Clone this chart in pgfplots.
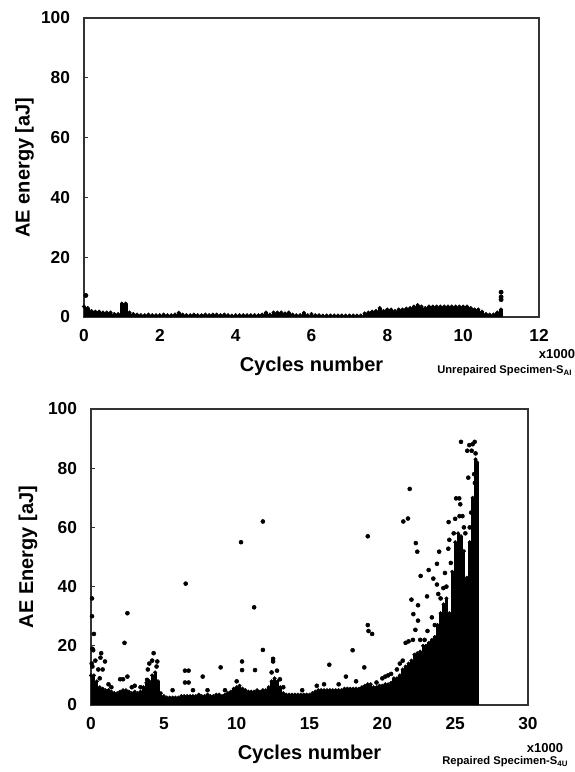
\documentclass[border=0pt]{standalone}
\usepackage{fontspec}
\setmainfont{Liberation Sans}
\usepackage{pgfplots}
\usepackage{pgfplotstable}
\pgfplotsset{compat=1.18}

% dense band of hits (upper edge of the point cloud), top specimen
\pgfplotstableread{
x y
0.0 3.5
0.1 3
0.2 2
0.3 1.8
0.4 1.8
0.5 1.5
0.6 1.5
0.7 1.5
0.8 1
0.9 1
1.0 4.5
1.1 4.5
1.2 1.5
1.3 1
1.4 0.8
1.5 0.6
1.6 0.6
1.7 0.8
1.8 0.6
1.9 0.6
2.0 0.6
2.1 0.8
2.2 0.6
2.3 0.6
2.4 0.8
2.5 1.4
2.6 0.8
2.7 0.6
2.8 0.6
2.9 0.8
3.0 0.6
3.1 0.6
3.2 0.8
3.3 0.6
3.4 0.8
3.5 0.8
3.6 0.6
3.7 0.8
3.8 0.6
3.9 0.5
4.0 0.6
4.1 0.6
4.2 0.6
4.3 0.6
4.4 0.6
4.5 0.6
4.6 0.6
4.7 0.8
4.8 1.5
4.9 0.8
5.0 1.5
5.1 1.5
5.2 1.5
5.3 1.2
5.4 1.5
5.5 0.8
5.6 0.6
5.7 0.6
5.8 1.4
5.9 0.6
6.0 1
6.1 0.6
6.2 0.6
6.3 0.5
6.4 0.5
6.5 0.5
6.6 0.5
6.7 0.5
6.8 0.5
6.9 0.5
7.0 0.5
7.1 0.5
7.2 0.5
7.3 0.5
7.4 1.2
7.5 1.5
7.6 1.8
7.7 2
7.8 3
7.9 2
8.0 2.5
8.1 2.5
8.2 2
8.3 2.5
8.4 2.5
8.5 2.8
8.6 3
8.7 3.5
8.8 4
8.9 3.5
9.0 3
9.1 3.5
9.2 3.5
9.3 3.5
9.4 3.5
9.5 3.5
9.6 3.5
9.7 3.5
9.8 3.5
9.9 3.5
10.0 3.5
10.1 3.5
10.2 3
10.3 2.5
10.4 2.5
10.5 1.8
10.6 1
10.7 0.8
10.8 0.8
10.9 1.5
11.0 2.5
}\topband

\pgfplotstableread{
x y
0.05 7.2
11.0 8.3
11.0 6.7
11.0 5.8
}\toppoints

% dense band, repaired specimen
\pgfplotstableread{
x y
0.0 10
0.2 10
0.4 8
0.6 6
0.8 5.5
1.0 5
1.2 5
1.4 4.5
1.6 4
1.8 4
2.0 4.5
2.2 5
2.4 5
2.6 4.5
2.8 4
3.0 4.5
3.2 4
3.4 4.5
3.6 6
3.8 7.5
4.0 8
4.2 10
4.4 11
4.6 8
4.8 4
5.0 3
5.2 2.5
5.4 2.5
5.6 2.5
5.8 2.5
6.0 2.5
6.2 3
6.4 3
6.6 3
6.8 3
7.0 3
7.2 3
7.4 3.5
7.6 3
7.8 3
8.0 3.5
8.2 3
8.4 3
8.6 3.5
8.8 3.5
9.0 3
9.2 3.5
9.4 4
9.6 4.5
9.8 5.5
10.0 6
10.2 6.5
10.4 5.5
10.6 5
10.8 4.5
11.0 4.5
11.2 4.5
11.4 5
11.6 4.5
11.8 5
12.0 5
12.2 6
12.4 8
12.6 9
12.8 8
13.0 6
13.2 4
13.4 3.5
13.6 3.5
13.8 3.5
14.0 3.5
14.2 3.5
14.4 3.5
14.6 3.5
14.8 3.5
15.0 3.5
15.2 4
15.4 4.5
15.6 5
15.8 5
16.0 5
16.2 5
16.4 5
16.6 5
16.8 5
17.0 5
17.2 5
17.4 5.5
17.6 5.5
17.8 5.5
18.0 5.5
18.2 5.5
18.4 5.5
18.6 6
18.8 6.5
19.0 7
19.2 7
19.4 6
19.6 6
19.8 6.5
20.0 6.5
20.2 7
20.4 7
20.6 7.5
20.8 9
21.0 9
21.2 10
21.4 12
21.6 13
21.8 14
22.0 15
22.2 17
22.4 17.5
22.6 18
22.8 20
23.0 20
23.2 21
23.4 22
23.6 23
23.8 27
24.0 31
24.2 34
24.4 36
24.6 31
24.8 45
25.0 55
25.2 58
25.4 57
25.6 52
25.8 43
26.0 55
26.2 70
26.4 83
26.5 82
}\botband

\pgfplotstableread{
x y
0.07 36
0.07 30
0.2 24
0.1 19
0.15 18.5
0.05 14
0.1 13
0.3 15
0.7 17.5
0.65 16
0.96 14.7
0.5 12
0.8 12
0.6 9
1.2 7
1.4 6
2.3 21
2.5 31
2.5 9.6
2.0 8.7
2.2 8.7
2.8 6
3.0 6.5
3.4 6
3.9 12
3.85 8.5
4.0 14
4.2 15
4.3 17.5
4.55 14.7
4.5 13
5.6 5
6.5 41
6.45 11.6
6.7 11.6
6.45 7.6
6.7 7.6
7.0 5
7.67 9.6
8.0 5
8.9 12.7
9.2 5
10.0 8
10.3 55
10.37 14.7
10.37 11.8
11.2 33
11.8 62
11.8 18.6
11.26 11.8
12.4 11
12.5 15.6
12.5 14.7
12.77 11.6
12.97 8.7
13.2 6
14.5 5
15.5 6.5
16.0 7
16.36 13.6
17.0 7
17.5 9.6
17.96 18.5
18.2 8
18.76 12.7
19.0 57
19.0 27
19.05 25
19.3 24
19.6 7.6
20.0 9
20.2 9.6
20.4 10
20.6 10.5
21.0 12
21.2 14
21.4 15
21.44 62
21.76 63
21.88 73
21.6 21
21.8 21.5
22.0 35.6
22.1 22
22.13 30.7
22.27 25.4
22.3 54.7
22.4 51.8
22.45 33.7
22.45 28.5
22.6 22
22.63 43.6
22.9 22
23.07 36.7
23.1 25
23.18 45.6
23.4 29.6
23.5 42.7
23.6 27
23.75 47.7
23.75 40.7
23.84 37.5
23.9 51.8
24.0 36
24.19 39.5
24.3 44.6
24.4 40
24.53 52.8
24.55 61.8
24.6 55.8
24.7 48
24.9 58
25.0 62.9
25.06 69.8
25.28 69.8
25.3 63.8
25.35 67.8
25.4 88.9
25.5 63.8
25.6 60
25.7 58
25.83 85.9
25.9 76.8
25.97 87.8
26.0 60
26.1 65
26.13 85.9
26.2 88.1
26.3 78
26.34 88.9
26.35 75
26.4 85
26.45 80
}\botpoints

\pgfplotsset{
  aeaxis/.style={
    scale only axis, anchor=south west,
    axis line style={black!80, line width=0.9pt},
    tick align=inside, xtick pos=bottom, ytick pos=left,
    major tick length=3pt, tick style={black!80, line width=0.6pt},
    ymin=0, ymax=100, ytick={0,20,...,100},
    /pgf/number format/assume math mode=true,
    ticklabel style={font=\bfseries\fontsize{13}{15}\selectfont},
    yticklabel style={xshift=-7pt},
    xticklabel style={yshift=-6pt},
    label style={font=\bfseries\fontsize{15}{18}\selectfont},
    xlabel style={at={(axis description cs:0.5,-0.165)}, anchor=center},
  },
  band/.style={black, ycomb, mark=*, mark size=1.3pt, mark options={fill=black, line width=0.4pt}},
  dots/.style={black, only marks, mark=*, mark size=1.5pt, mark options={fill=black}},
}

\begin{document}
\begin{tikzpicture}
\useasboundingbox (0,0) rectangle (431.25pt,579pt);

\begin{axis}[aeaxis,
  at={(63pt,341.25pt)}, width=341.25pt, height=224.25pt,
  xmin=0, xmax=12, xtick={0,2,...,12},
  xlabel={Cycles number}, ylabel={AE energy [aJ]},
  ylabel style={at={(axis description cs:-0.131,0.5)}, anchor=center},
]
\addplot[band, line width=2.9pt] table {\topband};
\addplot[dots, mark size=1.6pt] table {\toppoints};
\end{axis}

\begin{axis}[aeaxis,
  at={(68.25pt,50.25pt)}, width=327.75pt, height=222pt,
  xmin=0, xmax=30, xtick={0,5,...,30},
  xlabel={Cycles number}, ylabel={AE Energy [aJ]},
  ylabel style={at={(axis description cs:-0.144,0.5)}, anchor=center},
]
\addplot[band, line width=2.3pt] table {\botband};
\addplot[dots] table {\botpoints};
\end{axis}

\node[font=\bfseries\fontsize{9.75}{11}\selectfont] at (417.75pt,313.5pt) {x1000};
\node[font=\bfseries\fontsize{8.4}{10}\selectfont, anchor=west, inner sep=0pt] at (327.75pt,300.75pt) {Unrepaired Specimen-S\textsubscript{AI}};
\node[font=\bfseries\fontsize{9.75}{11}\selectfont] at (408.75pt,18pt) {x1000};
\node[font=\bfseries\fontsize{8.4}{10}\selectfont, anchor=west, inner sep=0pt] at (331.5pt,7.5pt) {Repaired Specimen-S\textsubscript{4U}};
\end{tikzpicture}
\end{document}
